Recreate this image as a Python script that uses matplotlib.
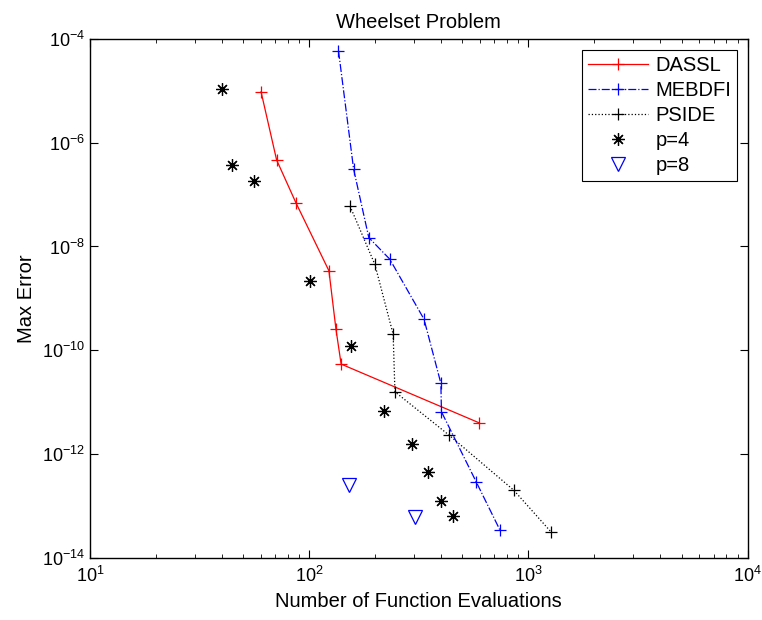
import matplotlib
matplotlib.use("Agg")
import matplotlib.pyplot as plt
from matplotlib.ticker import LogLocator, NullLocator, NullFormatter

plt.rcParams['font.family'] = ['Liberation Sans', 'DejaVu Sans']
plt.rcParams['mathtext.fontset'] = 'custom'
plt.rcParams['mathtext.rm'] = 'Liberation Sans'
plt.rcParams['mathtext.it'] = 'Liberation Sans'
plt.rcParams['mathtext.bf'] = 'Liberation Sans'

# Data
dassl_x = [60.3, 71, 86.9, 123, 132.4, 139.8, 594]
dassl_y = [9.6e-6, 4.65e-7, 7.0e-8, 3.4e-9, 2.56e-10, 5.4e-11, 4.0e-12]

mebdfi_x = [136, 159.4, 187, 233, 334, 398.6, 401, 579, 741]
mebdfi_y = [5.9e-5, 3.1e-7, 1.48e-8, 5.7e-9, 3.95e-10, 2.3e-11, 6.5e-12, 2.84e-13, 3.42e-14]

pside_x = [153.5, 199.3, 241.5, 246, 434.6, 857, 1265]
pside_y = [6.0e-8, 4.5e-9, 2.03e-10, 1.58e-11, 2.3e-12, 2.0e-13, 3.17e-14]

p4_x = [40, 44.3, 56, 100.4, 155, 219, 293, 349, 398.6, 454]
p4_y = [1.07e-5, 3.7e-7, 1.83e-7, 2.16e-9, 1.2e-10, 6.8e-12, 1.56e-12, 4.4e-13, 1.24e-13, 6.45e-14]

p8_x = [152, 305]
p8_y = [2.5e-13, 6.2e-14]

fig = plt.figure(figsize=(7.62, 6.2), dpi=100)
ax = fig.add_axes([0.1181, 0.1005, 0.8631, 0.8366])

ax.loglog(dassl_x, dassl_y, color='red', linestyle='-', linewidth=0.9,
          marker='+', markersize=9, markeredgewidth=0.9, label='DASSL')
ax.loglog(mebdfi_x, mebdfi_y, color='blue', linestyle='-.', linewidth=0.9,
          marker='+', markersize=9, markeredgewidth=0.9, label='MEBDFI')
ax.loglog(pside_x, pside_y, color='black', linestyle=':', linewidth=0.9,
          marker='+', markersize=9, markeredgewidth=0.9, label='PSIDE')
ax.loglog(p4_x, p4_y, color='black', linestyle='none',
          marker=(8, 2, 0), markersize=9, markeredgewidth=0.9, label='p=4')
ax.loglog(p8_x, p8_y, color='blue', linestyle='none',
          marker='v', markersize=10, markerfacecolor='none', markeredgewidth=0.9, label='p=8')

ax.set_xlim(10, 1e4)
ax.set_ylim(1e-14, 1e-4)

ax.xaxis.set_major_locator(LogLocator(base=10, numticks=10))
ax.xaxis.set_minor_locator(LogLocator(base=10, subs=range(2, 10), numticks=20))
ax.xaxis.set_minor_formatter(NullFormatter())
ax.set_yticks([1e-14, 1e-12, 1e-10, 1e-8, 1e-6, 1e-4])
ax.yaxis.set_minor_locator(NullLocator())

ax.tick_params(which='both', direction='in', top=True, right=True, labelsize=13)
ax.tick_params(axis='x', pad=6)
ax.tick_params(which='major', length=6, width=0.8)
ax.tick_params(which='minor', length=3, width=0.6)
for s in ax.spines.values():
    s.set_linewidth(1.0)

ax.set_xlabel('Number of Function Evaluations', fontsize=14.5, labelpad=4)
ax.set_ylabel('Max Error', fontsize=14.5, labelpad=4)
ax.set_title('Wheelset Problem', fontsize=14.5, pad=8)

leg = ax.legend(loc='upper right', fontsize=14.5, frameon=True, fancybox=False,
                edgecolor='black', framealpha=1, handlelength=3.0,
                borderpad=0.3, labelspacing=0.3, handletextpad=0.35,
                borderaxespad=0.0, bbox_to_anchor=(0.984, 0.979))
leg.get_frame().set_linewidth(0.8)

fig.savefig('out.png', dpi=100)
